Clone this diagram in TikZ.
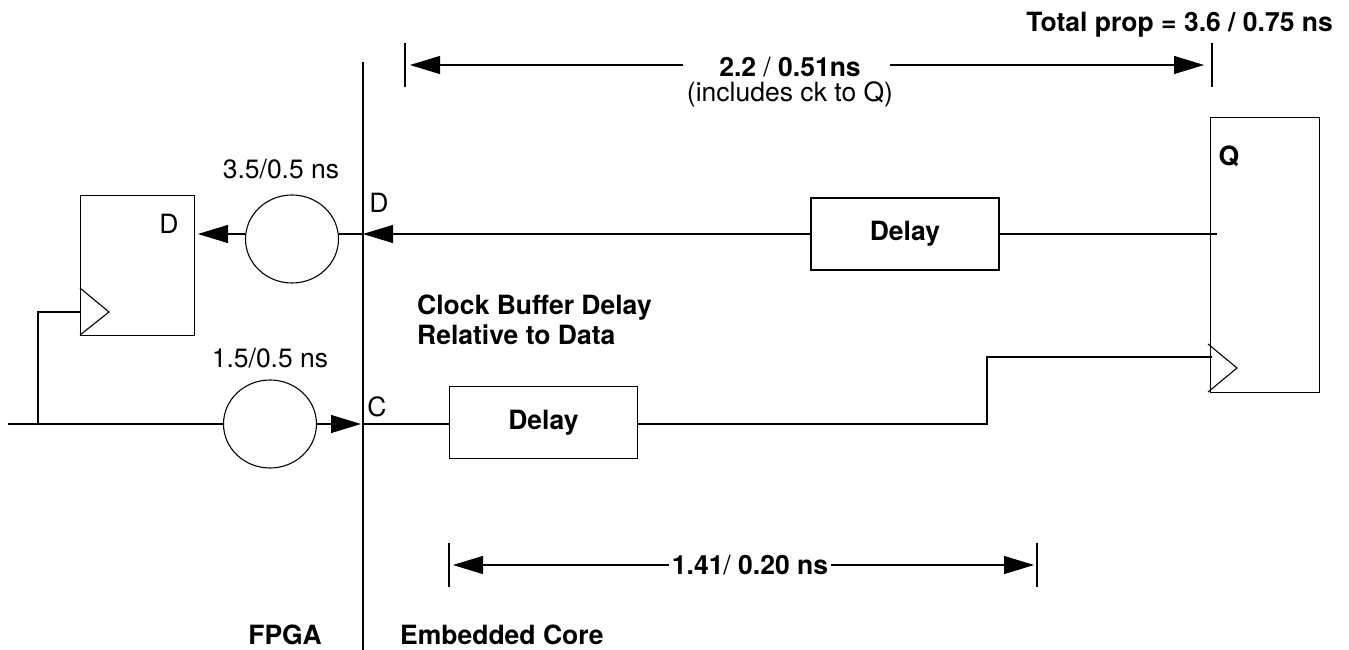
\documentclass[tikz,border=0pt]{standalone}
\usepackage{fontspec}
\setmainfont{TeX Gyre Heros}
\usetikzlibrary{positioning,arrows.meta,shapes.geometric}

\begin{document}
\begin{tikzpicture}[
          x=1pt, y=-1pt,
          every node/.style={font=\fontsize{26.5}{30}\selectfont, inner sep=0pt},
          lbl/.style={anchor=center, align=center},
          bold/.style={lbl, font=\fontsize{26.5}{30}\selectfont\bfseries},
          ffbox/.style={draw, line width=1.1pt, anchor=north west},
          delay/.style={ffbox, bold, anchor=center, minimum width=188pt, minimum height=72pt},
          buf/.style={draw, ellipse, line width=1.1pt, minimum width=93pt, minimum height=88pt},
          wire/.style={line width=1.1pt},
          arr/.style={wire, -{Triangle[length=30pt, width=18pt]}, shorten >=2pt},
        ]

          \useasboundingbox (0,0) rectangle (1349,650);

          % ── Flip-flops ───────────────────────────────────────
          \node[ffbox, minimum width=114pt, minimum height=140pt] (ffL) at (80,195) {};
          \node[ffbox, minimum width=109pt, minimum height=275pt] (ffR) at (1210,117) {};
          \draw[wire] (80,288) -- (109,312) -- (80,335);
          \draw[wire] (1208,344) -- (1237,368) -- (1208,392);
          \node[lbl] (dL) at (169,224) {D};
          \node[bold] (qR) at (1229,156) {Q};

          % ── Boundary and pins ────────────────────────────────
          \coordinate (top) at (363,62);
          \coordinate (bot) at (363,650);
          \draw[wire] (top) -- (bot);
          \coordinate (pinD) at (363,234);
          \coordinate (pinC) at (363,424);
          \node[lbl] (dP) at (379,203) {D};
          \node[lbl] (cP) at (377,407) {C};

          % ── Buffers and delays ───────────────────────────────
          \node[buf] (bufD) at (292,239) {};
          \node[buf] (bufC) at (270,424) {};
          \node[lbl] (tD) at (281,169) {3.5/0.5 ns};
          \node[lbl] (tC) at (270,358) {1.5/0.5 ns};
          \node[delay] (dlyD) at (905,234) {Delay};
          \node[delay] (dlyC) at (543.5,422.5) {Delay};

          % ── Edges ────────────────────────────────────────────
          \coordinate (in) at (8,424);
          \coordinate (tap) at (38,424);
          \coordinate (ckL) at (80,312);
          \coordinate (qEnd) at (1217,234);
          \coordinate (jog) at (987,424);
          \coordinate (ckR) at (1212,357);
          \coordinate (dTip) at (196,234);

          \draw[wire] (in) -- (bufC.west);
          \draw[wire] (tap) |- (ckL);
          \draw[arr]  (bufC.east) -- (pinC);
          \draw[wire] (pinC) -- (dlyC.west |- pinC);
          \draw[wire] (dlyC.east |- pinC) -- (jog) |- (ckR);
          \draw[wire] (dlyD.east) -- (qEnd);
          \draw[arr, shorten >=0pt] (dlyD.west) -- (pinD);
          \draw[wire] (pinD) -- (bufD.east |- pinD);
          \draw[arr]  (bufD.west |- pinD) -- (dTip);

          % ── Timing spans ─────────────────────────────────────
          \node[bold] (tTot) at (790,67) {2.2 {\mdseries/} 0.51ns};
          \node[lbl] (tInc) at (790,94) {(includes ck to Q)};
          \coordinate (a1) at (405,43);
          \coordinate (a2) at (405,87);
          \coordinate (b1) at (1212,43);
          \coordinate (b2) at (1212,87);
          \coordinate (aTip) at (408,65);
          \coordinate (bTip) at (1206,65);
          \coordinate (aTail) at (683,65);
          \coordinate (bTail) at (890,65);
          \draw[wire] (a1) -- (a2);
          \draw[wire] (b1) -- (b2);
          \draw[arr] (aTail) -- (aTip);
          \draw[arr] (bTail) -- (bTip);

          \node[bold, inner xsep=3pt] (tCore) at (750,565) {1.41{\mdseries/} 0.20 ns};
          \coordinate (c1) at (449,543);
          \coordinate (c2) at (449,587);
          \coordinate (e1) at (1037,543);
          \coordinate (e2) at (1037,587);
          \coordinate (cTip) at (451,565);
          \coordinate (eTip) at (1036,565);
          \draw[wire] (c1) -- (c2);
          \draw[wire] (e1) -- (e2);
          \draw[arr] (tCore.west) -- (cTip);
          \draw[arr] (tCore.east) -- (eTip);

          % ── Captions ─────────────────────────────────────────
          \node[bold, anchor=east] (tProp) at (1333,25) {Total prop = 3.6 / 0.75 ns};
          \node[bold, align=left, anchor=west] (tClk) at (417,320) {Clock Buffer Delay\\Relative to Data};
          \node[bold] (tFpga) at (285,635) {FPGA};
          \node[bold, anchor=west] (tEmb) at (400,635) {Embedded Core};

        \end{tikzpicture}
\end{document}
